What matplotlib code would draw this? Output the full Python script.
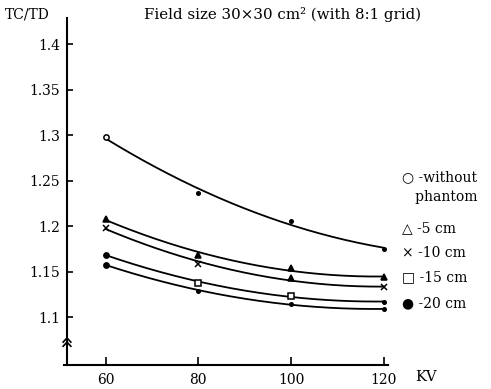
import numpy as np
import matplotlib.pyplot as plt

plt.rcParams['font.family'] = ['DejaVu Serif', 'DejaVu Sans']
plt.rcParams['font.size'] = 10

# 管电压 (KV) 与各条件下的 TC/TD
kv = [60, 80, 100, 120]
tc_no_phantom = [1.298, 1.237, 1.206, 1.175]
tc_5cm = [1.208, 1.169, 1.154, 1.144]
tc_10cm = [1.198, 1.159, 1.143, 1.133]
tc_15cm = [1.169, 1.138, 1.124, 1.117]
tc_20cm = [1.158, 1.129, 1.115, 1.109]

y_ticks = [1.1, 1.15, 1.2, 1.25, 1.3, 1.35, 1.4]
y_tick_labels = ['1.1', '1.15', '1.2', '1.25', '1.3', '1.35', '1.4']
legend_lines = ['○ -without', '   phantom', '△ -5 cm', '× -10 cm', '□ -15 cm', '● -20 cm']

# (数据, 每个点的记号, 是否空心)
series = [
    (tc_no_phantom, ['o', '.', '.', '.'], [True, False, False, False]),
    (tc_5cm, ['^', '^', '^', '^'], [False, False, False, False]),
    (tc_10cm, ['x', 'x', '^', 'x'], [False, False, False, False]),
    (tc_15cm, ['o', 's', 's', '.'], [False, True, True, False]),
    (tc_20cm, ['o', '.', '.', '.'], [False, False, False, False]),
]

fig = plt.figure(figsize=(4.91, 3.89), dpi=100)
ax = fig.add_axes([67 / 491, 1 - 365 / 389, 321 / 491, (365 - 18) / 389])
ax.set_xlim(51.7, 120.9)
ax.set_ylim(1.0478, 1.4287)

xs = np.linspace(60, 120, 200)
for vals, marks, hollow in series:
    coef = np.polyfit(kv, vals, 2)
    ax.plot(xs, np.polyval(coef, xs), color='black', lw=1.3, clip_on=False)
    for x, y, m, h in zip(kv, vals, marks, hollow):
        ax.plot([x], [y], marker=m, ms=3.8 if m != '.' else 5, color='black',
                mfc='white' if h else 'black', mew=1.1, ls='none', clip_on=False)

# 坐标轴样式
for side in ['top', 'right']:
    ax.spines[side].set_visible(False)
ax.spines['left'].set_linewidth(1.5)
ax.spines['bottom'].set_linewidth(1.5)
ax.spines['left'].set_bounds(1.07, 1.4287)
ax.spines['bottom'].set_bounds(51.0, 120.9)

ax.set_yticks(y_ticks)
ax.set_yticklabels(y_tick_labels)
ax.set_xticks(kv)
ax.set_xticklabels([str(k) for k in kv])
ax.tick_params(axis='y', direction='in', length=4, width=1.2, pad=5, labelsize=10)
ax.tick_params(axis='x', direction='in', length=6, width=1.2, pad=6, labelsize=10)

# 纵轴断裂记号
ax.plot([0.0, 0.0], [0.0, 0.06], transform=ax.transAxes, color='black', lw=1.5, clip_on=False)
ax.plot([-0.012, 0.0, 0.012], [0.054, 0.066, 0.054], transform=ax.transAxes,
        color='black', lw=1.2, clip_on=False)
ax.plot([-0.012, 0.0, 0.012], [0.066, 0.078, 0.066], transform=ax.transAxes,
        color='black', lw=1.2, clip_on=False)

fig.text(5 / 491, 1 - 15 / 389, 'TC/TD', ha='left', va='center', fontsize=10)
fig.text(283 / 491, 1 - 15 / 389, 'Field size 30×30 cm² (with 8:1 grid)',
         ha='center', va='center', fontsize=10.8)
fig.text(415 / 491, 1 - 377 / 389, 'KV', ha='left', va='center', fontsize=10.5)

legend_y = [177, 197, 228, 253, 277, 303]
for txt, ly in zip(legend_lines, legend_y):
    fig.text(402 / 491, 1 - ly / 389, txt, ha='left', va='center', fontsize=10)

fig.savefig('out.png', dpi=100)
